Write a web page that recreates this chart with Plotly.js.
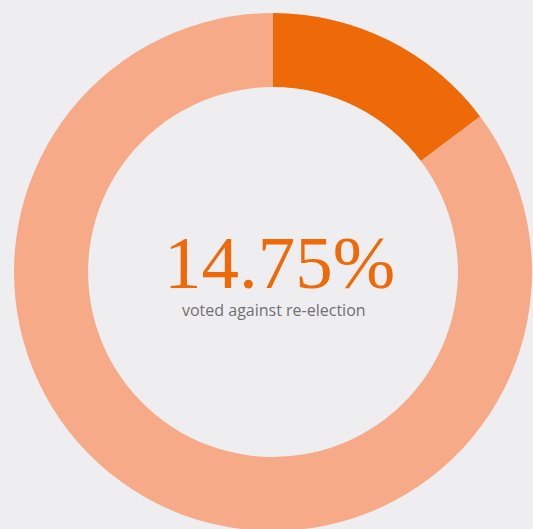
<!DOCTYPE html>
<html><head><meta charset="utf-8">
<script src="https://cdn.plot.ly/plotly-3.0.1.min.js"></script>
<style>html,body{margin:0;padding:0;overflow:hidden;background:#EEEEF0;}</style>
</head><body>
<div id="chart"></div>
<script>
const labels = ["Voted against re-election", "Other"];
const values = [14.75, 85.25];
const colors = ["#EE6A08", "#F6AA87"];
const bigText = "14.75%";
const subText = "voted against re-election";

Plotly.newPlot("chart", [{
  type: "pie",
  labels: labels,
  values: values,
  hole: 0.714,
  sort: false,
  direction: "clockwise",
  rotation: 0,
  textinfo: "none",
  hoverinfo: "none",
  marker: {colors: colors, line: {width: 0}}
}], {
  width: 533, height: 531,
  margin: {l: 14, r: 1, t: 13, b: 0, pad: 0},
  paper_bgcolor: "#EEEEF0",
  plot_bgcolor: "#EEEEF0",
  showlegend: false,
  annotations: [
    {text: bigText, showarrow: false,
     xref: "paper", yref: "paper", x: 273/533, y: 1 - 255/531, xanchor: "center", yanchor: "middle",
     height: 66, valign: "middle",
     font: {family: "Liberation Serif", size: 75, color: "#EE6A08"}},
    {text: subText, xref: "paper", yref: "paper", x: 268/533, y: 1 - 304/531, xanchor: "center", yanchor: "middle",
     font: {family: "Open Sans", size: 16, color: "#707070"}, showarrow: false}
  ]
}, {displayModeBar: false, staticPlot: true});
</script>
</body></html>
